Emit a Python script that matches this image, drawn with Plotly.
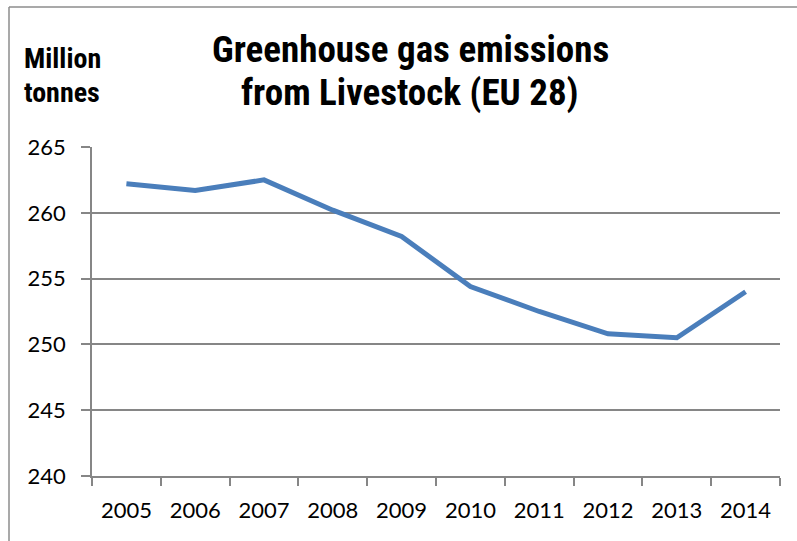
import plotly.graph_objects as go

years = ["2005", "2006", "2007", "2008", "2009", "2010", "2011", "2012", "2013", "2014"]
emissions = [262.2, 261.7, 262.5, 260.2, 258.2, 254.4, 252.5, 250.8, 250.5, 254.0]
y_ticks = [240, 245, 250, 255, 260, 265]

W, H = 797, 541
L, R, T, B = 92, 17, 147, 65
pw, ph = W - L - R, H - T - B


def px_x(x):
    return (x - L) / pw


def px_y(y):
    return (H - B - y) / ph


grid = "#868686"
narrow = "Roboto Condensed, Liberation Sans Narrow, Arial Narrow, sans-serif"
title_font = dict(family=narrow, size=37, color="black")
unit_font = dict(family=narrow, size=28, color="black")
tick_font = dict(family="Lato, Carlito, Calibri, sans-serif", size=22, color="black")

fig = go.Figure()
fig.add_trace(go.Scatter(
    x=years, y=emissions, mode="lines",
    line=dict(color="#4a7ebb", width=5),
    hoverinfo="x+y",
))

fig.update_layout(
    width=W, height=H,
    margin=dict(l=L, r=R, t=T, b=B),
    paper_bgcolor="white", plot_bgcolor="white",
    showlegend=False,
    xaxis=dict(
        type="category", tickson="boundaries",
        ticks="outside", ticklen=8, tickcolor=grid, tickwidth=1.5,
        showline=True, linecolor=grid, linewidth=1.5,
        showgrid=False,
        tickfont=tick_font,
        ticklabelstandoff=14,
        range=[-0.5, len(years) - 0.5],
    ),
    yaxis=dict(
        range=[240, 265], tickvals=y_ticks,
        ticks="outside", ticklen=9, tickcolor=grid, tickwidth=1.5,
        showline=True, linecolor=grid, linewidth=1.5,
        showgrid=True, gridcolor=grid, gridwidth=1.5,
        zeroline=False,
        tickfont=tick_font,
        ticklabelstandoff=11,
    ),
    shapes=[
        # outer chart border (left and top edges)
        dict(type="line", xref="paper", yref="paper",
             x0=px_x(9), x1=px_x(9), y0=px_y(7), y1=px_y(560),
             line=dict(color="#8c8c8c", width=1.5)),
        dict(type="line", xref="paper", yref="paper",
             x0=px_x(9), x1=px_x(820), y0=px_y(7), y1=px_y(7),
             line=dict(color="#8c8c8c", width=1.5)),
    ],
    annotations=[
        dict(text="<b>Greenhouse gas emissions</b>", xref="paper", yref="paper",
             x=px_x(410), y=px_y(49), xanchor="center", yanchor="middle",
             showarrow=False, font=title_font),
        dict(text="<b>from Livestock (EU 28)</b>", xref="paper", yref="paper",
             x=px_x(410), y=px_y(93), xanchor="center", yanchor="middle",
             showarrow=False, font=title_font),
        dict(text="<b>Million</b>", xref="paper", yref="paper",
             x=px_x(22), y=px_y(59), xanchor="left", yanchor="middle",
             showarrow=False, font=unit_font),
        dict(text="<b>tonnes</b>", xref="paper", yref="paper",
             x=px_x(22), y=px_y(93), xanchor="left", yanchor="middle",
             showarrow=False, font=unit_font),
    ],
)

fig.write_html("out.html")
